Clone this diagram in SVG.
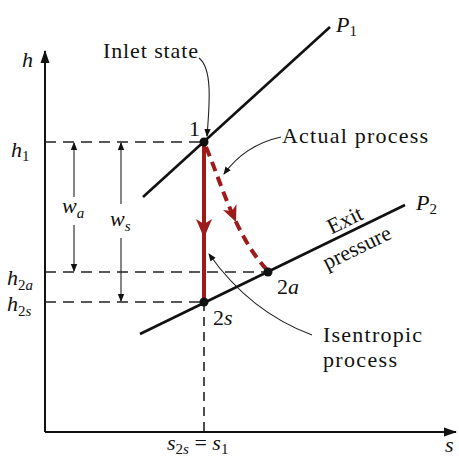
<svg xmlns="http://www.w3.org/2000/svg" width="459" height="459" viewBox="0 0 459 459">
<style>
text{font-family:"Liberation Serif","Times New Roman",serif;fill:#111}
.lbl{font-size:22px}
.sub{font-size:15px;font-style:normal}
.it{font-style:italic}
.axis{stroke:#111;stroke-width:2;fill:none}
.dash{stroke:#222;stroke-width:1.6;stroke-dasharray:11 7;fill:none}
.thin{stroke:#222;stroke-width:1.1;fill:none}
.iso{stroke:#111;stroke-width:2.6;fill:none}
.red{stroke:#9e1b1b;stroke-width:4;fill:none}
.redfill{fill:#9e1b1b}
.dot{fill:#111}
</style>
<defs>
<marker id="ah" markerWidth="8" markerHeight="8" refX="7" refY="4" orient="auto" markerUnits="userSpaceOnUse">
<path d="M0,0.8 L8,4 L0,7.2 Z" fill="#111"/>
</marker>
<marker id="axh" markerWidth="13" markerHeight="10" refX="12" refY="5" orient="auto" markerUnits="userSpaceOnUse">
<path d="M0,0.5 L13,5 L0,9.5 Z" fill="#111"/>
</marker>
</defs>

<g id="axes">
<line class="axis" x1="45" y1="432" x2="45" y2="51" marker-end="url(#axh)"/>
<line class="axis" x1="45" y1="432" x2="456" y2="432" marker-end="url(#axh)"/>
<text class="lbl it" x="22" y="67">h</text>
<text class="lbl it" x="445" y="452">s</text>
<text class="lbl" x="167" y="450"><tspan class="it">s</tspan><tspan class="sub" dy="4">2</tspan><tspan class="sub it">s</tspan><tspan dy="-4"> = </tspan><tspan class="it">s</tspan><tspan class="sub" dy="4">1</tspan></text>
</g>

<g id="h-levels">
<line class="dash" x1="45" y1="142" x2="204" y2="142"/>
<line class="dash" x1="45" y1="272" x2="268" y2="272"/>
<line class="dash" x1="45" y1="302" x2="204" y2="302"/>
<line class="dash" x1="204" y1="302" x2="204" y2="432" style="stroke-dasharray:9 6"/>
<text class="lbl" x="11" y="157"><tspan class="it">h</tspan><tspan class="sub" dy="4">1</tspan></text>
<text class="lbl" x="7" y="285"><tspan class="it">h</tspan><tspan class="sub" dy="5">2</tspan><tspan class="sub it">a</tspan></text>
<text class="lbl" x="7" y="311"><tspan class="it">h</tspan><tspan class="sub" dy="5">2</tspan><tspan class="sub it">s</tspan></text>
</g>

<g id="P1">
<line class="iso" x1="143" y1="197" x2="330" y2="27"/>
<text class="lbl" x="336" y="32"><tspan class="it">P</tspan><tspan class="sub" dy="4">1</tspan></text>
</g>

<g id="P2">
<line class="iso" x1="140" y1="334" x2="405" y2="205"/>
<text class="lbl" x="416" y="210"><tspan class="it">P</tspan><tspan class="sub" dy="4">2</tspan></text>
<text class="lbl" text-anchor="middle" transform="translate(348,226.5) rotate(-26)">Exit</text>
<text class="lbl" text-anchor="middle" transform="translate(360,254) rotate(-26)">pressure</text>
</g>

<g id="work">
<line class="thin" x1="74" y1="197" x2="74" y2="143" marker-end="url(#ah)"/>
<line class="thin" x1="74" y1="225" x2="74" y2="271" marker-end="url(#ah)"/>
<text class="lbl" x="62" y="213"><tspan class="it">w</tspan><tspan class="sub it" dy="5">a</tspan></text>
<line class="thin" x1="121" y1="204" x2="121" y2="143" marker-end="url(#ah)"/>
<line class="thin" x1="121" y1="238" x2="121" y2="301" marker-end="url(#ah)"/>
<text class="lbl" x="110" y="226"><tspan class="it">w</tspan><tspan class="sub it" dy="5">s</tspan></text>
</g>

<g id="processes">
<line class="red" x1="204" y1="142" x2="204" y2="302"/>
<path class="redfill" d="M196,219 L204,238 L212,219 L204,224 Z"/>
<path class="red" d="M206,147 C222,185 235,235 267,270" stroke-dasharray="10 6"/>
<path class="redfill" d="M236,222 L236.5,204 L232,211 L223,210 Z"/>
</g>

<g id="state1">
<circle class="dot" cx="204" cy="142" r="4.5"/>
<text class="lbl" x="200" y="136" text-anchor="end">1</text>
</g>
<g id="state2s">
<circle class="dot" cx="204" cy="302" r="4.5"/>
<text class="lbl" x="213" y="325">2<tspan class="it">s</tspan></text>
</g>
<g id="state2a">
<circle class="dot" cx="268" cy="272" r="4.5"/>
<text class="lbl" x="277" y="294">2<tspan class="it">a</tspan></text>
</g>

<g id="annotations">
<text class="lbl" x="103" y="58" textLength="95">Inlet state</text>
<path class="thin" d="M199,58 C212,68 210,100 207,136" marker-end="url(#ah)"/>
<text class="lbl" x="282" y="143" textLength="146">Actual process</text>
<path class="thin" d="M281,137 Q245,145 224,174" marker-end="url(#ah)"/>
<text class="lbl" x="323" y="342" textLength="99">Isentropic</text>
<text class="lbl" x="323" y="367" textLength="74">process</text>
<path class="thin" d="M312,335 Q250,312 209,254" marker-end="url(#ah)"/>
</g>
</svg>
